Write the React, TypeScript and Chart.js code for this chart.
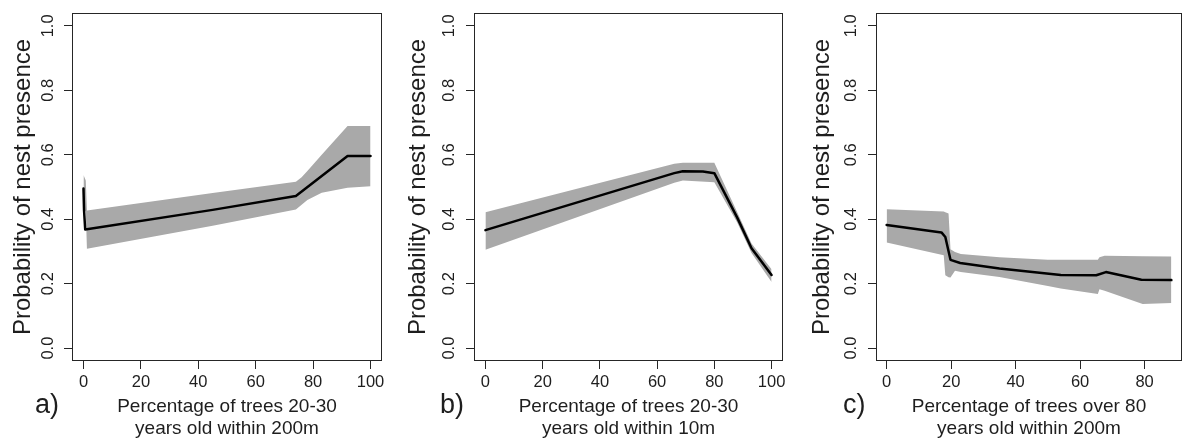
import React, { useEffect, useRef } from "react";
import { Chart, registerables } from "chart.js";

Chart.register(...registerables);

// ---------- shared ----------
const yTicks = [0, 0.2, 0.4, 0.6, 0.8, 1.0];
const yTitle = "Probability of nest presence";

// ---------- panel a ----------
const aBandX = [0, 0.8, 1.2, 45, 74, 76, 78, 83, 92, 100];
const aBandHi = [0.537, 0.52, 0.427, 0.481, 0.516, 0.53, 0.55, 0.6, 0.689, 0.689];
const aBandLo = [0.425, 0.425, 0.308, 0.38, 0.43, 0.445, 0.46, 0.482, 0.498, 0.502];
const aMeanX = [0, 0.2, 0.6, 45, 74, 92, 100];
const aMean = [0.495, 0.427, 0.368, 0.429, 0.472, 0.596, 0.596];
const aXTicks = [0, 20, 40, 60, 80, 100];
const aXTitle = ["Percentage of trees 20-30", "years old within 200m"];

// ---------- panel b ----------
const bBandX = [0, 66, 69, 80, 88, 93, 100];
const bBandHi = [0.422, 0.572, 0.575, 0.575, 0.422, 0.325, 0.245];
const bBandLo = [0.305, 0.513, 0.52, 0.515, 0.39, 0.295, 0.205];
const bMeanX = [0, 66, 69, 76, 80, 88, 93, 100];
const bMean = [0.366, 0.543, 0.549, 0.548, 0.543, 0.405, 0.31, 0.227];
const bXTicks = [0, 20, 40, 60, 80, 100];
const bXTitle = ["Percentage of trees 20-30", "years old within 10m"];

// ---------- panel c ----------
const cBandX = [0, 17.7, 18.2, 19.2, 19.8, 21.2, 23, 35, 50, 54, 65.5, 66, 67.6, 79.4, 88.3];
const cBandHi = [0.431, 0.424, 0.422, 0.418, 0.307, 0.298, 0.292, 0.282, 0.274, 0.274, 0.274, 0.282, 0.287, 0.285, 0.284];
const cBandLo = [0.328, 0.288, 0.226, 0.22, 0.219, 0.24, 0.236, 0.221, 0.193, 0.185, 0.168, 0.183, 0.178, 0.137, 0.14];
const cMeanX = [0, 17, 18.2, 19.8, 22.8, 35, 54, 65, 68, 79, 88.3];
const cMean = [0.382, 0.359, 0.345, 0.274, 0.264, 0.247, 0.227, 0.226, 0.236, 0.212, 0.211];
const cXTicks = [0, 20, 40, 60, 80];
const cXTitle = ["Percentage of trees over 80", "years old within 200m"];

const FONT = "'Liberation Sans', Arial, Helvetica, sans-serif";
const TEXT = "#1e1e1e";
const AXIS = "#262626";
const BAND = "#a9a9a9";

type Spec = {
  left: number;
  width: number;
  yAxisWidth: number;
  padRight: number;
  xMin: number;
  xMax: number;
  yTickPad: number;
  yTitlePad: number;
  letter: string;
  letterX: number;
  bandX: number[];
  hi: number[];
  lo: number[];
  meanX: number[];
  mean: number[];
  xTicks: number[];
  xTitle: string[];
};

const specs: Spec[] = [
  {
    left: 0, width: 395, yAxisWidth: 72, padRight: 13, xMin: -4, xMax: 104,
    yTickPad: 4, yTitlePad: 8.6, letter: "a)", letterX: 35,
    bandX: aBandX, hi: aBandHi, lo: aBandLo, meanX: aMeanX, mean: aMean,
    xTicks: aXTicks, xTitle: aXTitle,
  },
  {
    left: 395, width: 395, yAxisWidth: 79, padRight: 7, xMin: -4, xMax: 104,
    yTickPad: 5, yTitlePad: 8.6, letter: "b)", letterX: 45,
    bandX: bBandX, hi: bBandHi, lo: bBandLo, meanX: bMeanX, mean: bMean,
    xTicks: bXTicks, xTitle: bXTitle,
  },
  {
    left: 790, width: 399, yAxisWidth: 86, padRight: 7, xMin: -3.3, xMax: 91.6,
    yTickPad: 5, yTitlePad: 17.6, letter: "c)", letterX: 53,
    bandX: cBandX, hi: cBandHi, lo: cBandLo, meanX: cMeanX, mean: cMean,
    xTicks: cXTicks, xTitle: cXTitle,
  },
];

function Panel({ spec }: { spec: Spec }) {
  const ref = useRef<HTMLCanvasElement>(null);
  useEffect(() => {
    const canvas = ref.current;
    if (!canvas) return;
    const boxPlugin = {
      id: "boxAndLetter",
      afterDraw(chart: any) {
        const { ctx, chartArea: a } = chart;
        ctx.save();
        ctx.strokeStyle = AXIS;
        ctx.lineWidth = 1;
        const l = Math.round(a.left) + 0.5;
        const t = Math.round(a.top) + 0.5;
        const r = Math.round(a.right) - 0.5;
        const b = Math.round(a.bottom) - 0.5;
        ctx.strokeRect(l, t, r - l, b - t);
        ctx.fillStyle = TEXT;
        ctx.font = `27px ${FONT}`;
        ctx.textAlign = "left";
        ctx.textBaseline = "alphabetic";
        ctx.fillText(spec.letter, spec.letterX, 413);
        ctx.restore();
      },
    };
    const tickFont = { family: FONT, size: 16.5 };
    const chart = new Chart(canvas, {
      type: "line",
      data: {
        datasets: [
          {
            data: spec.meanX.map((x, i) => ({ x, y: spec.mean[i] })),
            fill: false,
            borderColor: "#000000",
            borderWidth: 2.5,
            borderJoinStyle: "round",
            borderCapStyle: "round",
            pointRadius: 0,
            pointHoverRadius: 0,
            tension: 0,
            order: 0,
          },
          {
            data: spec.bandX.map((x, i) => ({ x, y: spec.hi[i] })),
            fill: "+1",
            backgroundColor: BAND,
            borderColor: "rgba(0,0,0,0)",
            borderWidth: 0,
            pointRadius: 0,
            pointHoverRadius: 0,
            tension: 0,
            order: 1,
          },
          {
            data: spec.bandX.map((x, i) => ({ x, y: spec.lo[i] })),
            fill: false,
            borderColor: "rgba(0,0,0,0)",
            borderWidth: 0,
            pointRadius: 0,
            pointHoverRadius: 0,
            tension: 0,
            order: 2,
          },
        ],
      } as any,
      options: {
        animation: false,
        responsive: false,
        devicePixelRatio: 1,
        events: [],
        layout: { padding: { left: 0, right: spec.padRight, top: 13, bottom: 0 } },
        plugins: {
          legend: { display: false },
          tooltip: { enabled: false },
          title: { display: false },
        },
        scales: {
          x: {
            type: "linear",
            min: spec.xMin,
            max: spec.xMax,
            afterBuildTicks: (s: any) => {
              s.ticks = spec.xTicks.map((v) => ({ value: v }));
            },
            afterFit: (s: any) => {
              s.height = 80;
              s.paddingLeft = 0;
              s.paddingRight = 0;
            },
            grid: { drawOnChartArea: false, drawTicks: true, tickLength: 8, color: AXIS, lineWidth: 1 },
            border: { display: false },
            ticks: {
              autoSkip: false,
              minRotation: 0,
              maxRotation: 0,
              padding: 3.5,
              color: TEXT,
              font: tickFont,
              callback: (v: any) => String(v),
            },
            title: {
              display: true,
              text: spec.xTitle,
              color: TEXT,
              font: { family: FONT, size: 19, lineHeight: 22 / 19 },
              padding: { top: 0, bottom: 1.6 },
            },
          },
          y: {
            type: "linear",
            min: -0.04,
            max: 1.04,
            afterBuildTicks: (s: any) => {
              s.ticks = yTicks.map((v) => ({ value: v }));
            },
            afterFit: (s: any) => {
              s.width = spec.yAxisWidth;
              s.paddingTop = 0;
              s.paddingBottom = 0;
            },
            grid: { drawOnChartArea: false, drawTicks: true, tickLength: 8, color: AXIS, lineWidth: 1 },
            border: { display: false },
            ticks: {
              autoSkip: false,
              minRotation: 90,
              maxRotation: 90,
              crossAlign: "center",
              padding: spec.yTickPad,
              color: TEXT,
              font: tickFont,
              callback: (v: any) => Number(v).toFixed(1),
            },
            title: {
              display: true,
              text: yTitle,
              color: TEXT,
              font: { family: FONT, size: 24 },
              padding: { top: spec.yTitlePad, bottom: 0 },
            },
          },
        },
      } as any,
      plugins: [boxPlugin],
    });
    return () => chart.destroy();
  }, [spec]);

  return (
    <canvas
      ref={ref}
      width={spec.width}
      height={441}
      style={{ position: "absolute", left: spec.left, top: 0, width: spec.width, height: 441 }}
    />
  );
}

export default function App() {
  return (
    <div
      style={{
        position: "absolute",
        left: 0,
        top: 0,
        width: 1189,
        height: 441,
        background: "#ffffff",
        overflow: "hidden",
      }}
    >
      {specs.map((s) => (
        <Panel key={s.letter} spec={s} />
      ))}
    </div>
  );
}
